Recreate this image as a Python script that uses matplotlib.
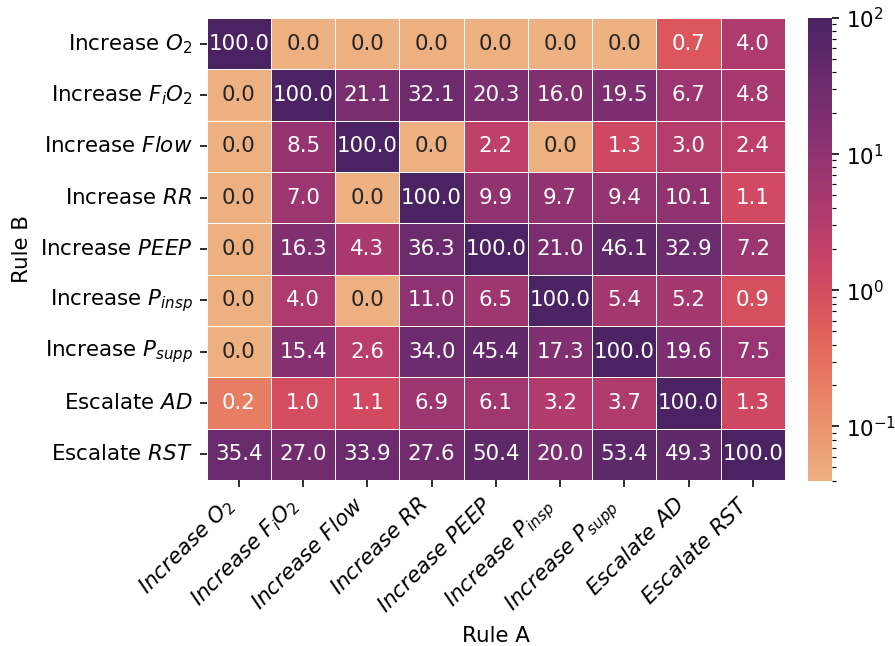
import numpy as np
import seaborn as sns
from matplotlib import pyplot as plt
from matplotlib.colors import LogNorm

plt.rcParams['font.size'] = 10.7

## rule labels (Rule A on x, Rule B on y)
rule_names = ['Increase $O_2$', 'Increase $F_iO_2$', 'Increase $Flow$', 'Increase $RR$',
              'Increase $PEEP$', 'Increase $P_{insp}$', 'Increase $P_{supp}$',
              'Escalate $AD$', 'Escalate $RST$']

## one list per Rule B row, values in %
row_o2    = [100.0, 0.0, 0.0, 0.0, 0.0, 0.0, 0.0, 0.7, 4.0]
row_fio2  = [0.0, 100.0, 21.1, 32.1, 20.3, 16.0, 19.5, 6.7, 4.8]
row_flow  = [0.0, 8.5, 100.0, 0.0, 2.2, 0.0, 1.3, 3.0, 2.4]
row_rr    = [0.0, 7.0, 0.0, 100.0, 9.9, 9.7, 9.4, 10.1, 1.1]
row_peep  = [0.0, 16.3, 4.3, 36.3, 100.0, 21.0, 46.1, 32.9, 7.2]
row_pinsp = [0.0, 4.0, 0.0, 11.0, 6.5, 100.0, 5.4, 5.2, 0.9]
row_psupp = [0.0, 15.4, 2.6, 34.0, 45.4, 17.3, 100.0, 19.6, 7.5]
row_ad    = [0.2, 1.0, 1.1, 6.9, 6.1, 3.2, 3.7, 100.0, 1.3]
row_rst   = [35.4, 27.0, 33.9, 27.6, 50.4, 20.0, 53.4, 49.3, 100.0]

values = np.array([row_o2, row_fio2, row_flow, row_rr, row_peep,
                   row_pinsp, row_psupp, row_ad, row_rst])

## x labels are fully italic
x_names = ['$\\mathit{' + s.replace('$', '').replace(' ', '\\ ') + '}$' for s in rule_names]

cmap = sns.color_palette("flare", as_cmap=True).copy()
cmap.set_bad(cmap(0.0))
cmap.set_under(cmap(0.0))

fig = plt.figure(figsize=(895 / 144, 646 / 144), dpi=144)
ax = fig.add_axes([0.231, 0.257, 0.646, 0.715])
cax = fig.add_axes([0.903, 0.256, 0.027, 0.716])

sns.heatmap(values, ax=ax, cbar_ax=cax, cmap=cmap,
            norm=LogNorm(vmin=0.04, vmax=100),
            annot=values, fmt='.1f', linewidths=0.5, linecolor='white',
            xticklabels=x_names, yticklabels=rule_names)

ax.set_xlabel('Rule A')
ax.set_ylabel('Rule B')
plt.setp(ax.get_xticklabels(), rotation=45, ha='right')
plt.setp(ax.get_yticklabels(), rotation=0)
cax.tick_params(length=3.5)

fig.savefig('out.png', dpi=144)
